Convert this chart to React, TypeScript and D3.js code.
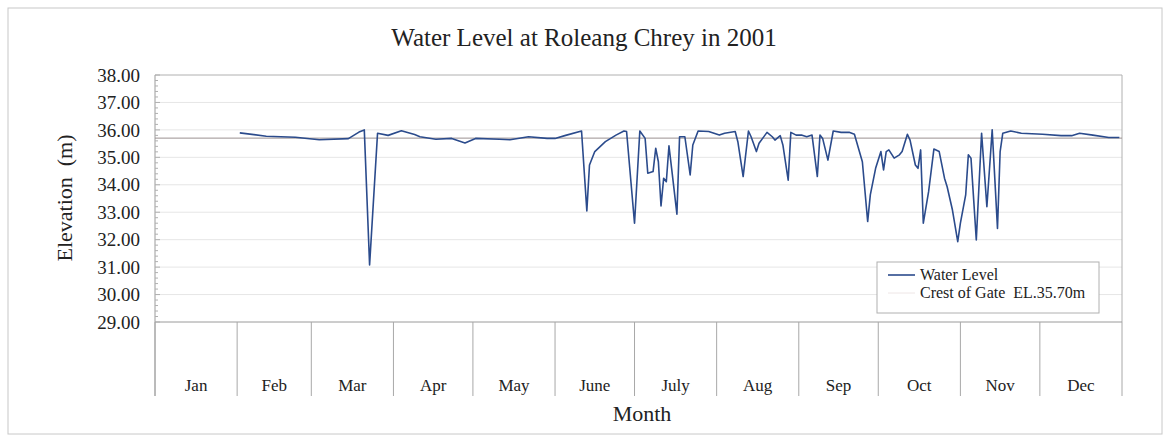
import React from "react";
import * as d3 from "d3";

const TITLE = "Water Level at Roleang Chrey in 2001";
const Y_TITLE = "Elevation  (m)";
const X_TITLE = "Month";
const MONTHS = ["Jan", "Feb", "Mar", "Apr", "May", "June", "July", "Aug", "Sep", "Oct", "Nov", "Dec"];
const Y_TICKS = [29, 30, 31, 32, 33, 34, 35, 36, 37, 38];
const CREST = 35.7;
const SERIES_NAMES = ["Water Level", "Crest of Gate  EL.35.70m"];

// day of year (0 = Jan 1, 2001)
const DAYS = [
  32, 42, 53, 62, 73, 77, 79, 81, 84, 88, 93, 98, 100, 106, 112, 117, 121, 130, 134, 141, 148,
  151, 155, 161, 163, 164, 166, 170, 174, 177, 178, 181, 183, 185, 186, 188, 189, 190, 191, 192,
  193, 194, 195, 197, 198, 200, 202, 203, 205, 209, 213, 215, 219, 220, 222, 224, 225, 227, 228,
  231, 233, 234, 236, 237, 239, 240, 242, 244, 246, 248, 250, 251, 252, 254, 256, 259, 262, 264,
  267, 269, 270, 272, 274, 275, 276, 277, 279, 281, 282, 284, 285, 287, 288, 289, 290, 292, 294,
  296, 298, 299, 301, 303, 304, 306, 307, 308, 310, 312, 314, 316, 318, 319, 320, 323, 327, 335,
  342, 346, 349, 354, 360, 364,
];
const LEVELS = [
  35.89, 35.77, 35.73, 35.64, 35.68, 35.92, 36.0, 31.08, 35.88, 35.8, 35.97, 35.83, 35.75, 35.66,
  35.69, 35.52, 35.69, 35.66, 35.64, 35.75, 35.69,
  35.69, 35.8, 35.96, 33.05, 34.72, 35.21, 35.57, 35.81, 35.96, 35.94, 32.6, 35.96, 35.69, 34.42,
  34.48, 35.33, 34.84, 33.23, 34.24,
  34.11, 35.42, 34.6, 32.93, 35.75, 35.75, 34.36, 35.45, 35.96, 35.94, 35.81, 35.88, 35.94, 35.57,
  34.3, 35.96, 35.75, 35.21, 35.51,
  35.91, 35.75, 35.63, 35.79, 35.45, 34.17, 35.91, 35.81, 35.81, 35.75, 35.81, 34.3, 35.81, 35.69,
  34.9, 35.96, 35.91, 35.91, 35.84,
  34.84, 32.66, 33.63, 34.6, 35.21, 34.54, 35.21, 35.27, 34.97, 35.09, 35.21, 35.84, 35.63, 34.72,
  34.6, 35.27, 32.6, 33.75, 35.3,
  35.21, 34.24, 33.93, 33.08, 31.93, 32.6, 33.63, 35.09, 34.97, 31.99, 35.88, 33.2, 36.0, 32.41,
  35.21, 35.88, 35.96, 35.88, 35.84,
  35.79, 35.79, 35.88, 35.81, 35.72, 35.72,
];

const W = 1167;
const H = 435;
const PL = 155;
const PR = 1122;
const PT = 75;
const PB = 322;
const CAT_B = 396;
const FONT = "'Liberation Serif', 'Times New Roman', serif";

export default function App() {
  const x = d3
    .scaleTime()
    .domain([new Date(2001, 0, 1), new Date(2002, 0, 1)])
    .range([PL, PR]);
  const y = d3.scaleLinear().domain([29, 38]).range([PB, PT]);

  const data = DAYS.map((d, i) => ({ date: new Date(2001, 0, 1 + d), v: LEVELS[i] }));
  const line = d3
    .line<{ date: Date; v: number }>()
    .x((d) => x(d.date))
    .y((d) => y(d.v));

  const monthStarts = d3.range(0, 13).map((m) => new Date(2001, m, 1));
  const minor = d3.range(29, 38.001, 0.2);

  return (
    <svg
      width={W}
      height={H}
      style={{ position: "absolute", left: 0, top: 0, background: "#fff" }}
      fontFamily={FONT}
    >
      <rect x={8} y={8} width={1154} height={426} fill="#fff" stroke="#c8c8c8" strokeWidth={1} />
      <text x={584} y={46} textAnchor="middle" fontSize={25} fill="#222">
        {TITLE}
      </text>

      {/* gridlines */}
      {Y_TICKS.slice(1, -1).map((t) => (
        <line key={t} x1={PL} x2={PR} y1={y(t)} y2={y(t)} stroke="#e6e6e6" strokeWidth={1} />
      ))}
      {/* plot frame */}
      <line x1={PL} x2={PR} y1={PT} y2={PT} stroke="#b0b0b0" />
      <line x1={PR} x2={PR} y1={PT} y2={PB} stroke="#b0b0b0" />
      <line x1={PL} x2={PR} y1={PB} y2={PB} stroke="#9a9a9a" />
      <line x1={PL} x2={PL} y1={PT} y2={CAT_B} stroke="#9a9a9a" />

      {/* y ticks */}
      {minor.map((t, i) => (
        <line
          key={"m" + i}
          x1={PL}
          x2={PL + (i % 5 === 0 ? 5 : 3)}
          y1={y(t)}
          y2={y(t)}
          stroke="#b0b0b0"
        />
      ))}
      {Y_TICKS.map((t) => (
        <text
          key={t}
          x={140}
          y={y(t)}
          dy="0.35em"
          textAnchor="end"
          fontSize={19}
          fill="#222"
        >
          {d3.format(".2f")(t)}
        </text>
      ))}

      {/* month category area */}
      {monthStarts.map((d, i) => (
        <line key={i} x1={x(d)} x2={x(d)} y1={PB} y2={CAT_B} stroke="#a8a8a8" />
      ))}
      {MONTHS.map((m, i) => (
        <text
          key={m}
          x={(x(monthStarts[i]) + x(monthStarts[i + 1])) / 2}
          y={391}
          textAnchor="middle"
          fontSize={17}
          fill="#222"
        >
          {m}
        </text>
      ))}

      {/* crest line */}
      <line x1={PL} x2={PR} y1={y(CREST)} y2={y(CREST)} stroke="#9a9090" strokeWidth={1} />

      {/* water level */}
      <path d={line(data) || ""} fill="none" stroke="#2b4b8c" strokeWidth={1.6} strokeLinejoin="round" />

      {/* axis titles */}
      <text
        transform={`translate(72,${198}) rotate(-90)`}
        textAnchor="middle"
        fontSize={22}
        fill="#222"
        style={{ whiteSpace: "pre" }}
      >
        {Y_TITLE}
      </text>
      <text x={642} y={421} textAnchor="middle" fontSize={22} fill="#222">
        {X_TITLE}
      </text>

      {/* legend */}
      <rect x={877} y={262} width={222} height={51} fill="#fff" stroke="#b0b0b0" />
      <line x1={888} x2={915} y1={275} y2={275} stroke="#2b4b8c" strokeWidth={1.6} />
      <text x={920} y={280} fontSize={16} fill="#222">
        {SERIES_NAMES[0]}
      </text>
      <line x1={888} x2={915} y1={293} y2={293} stroke="#eee6e6" strokeWidth={1} />
      <text x={920} y={298} fontSize={16} fill="#222" style={{ whiteSpace: "pre" }}>
        {SERIES_NAMES[1]}
      </text>
    </svg>
  );
}
